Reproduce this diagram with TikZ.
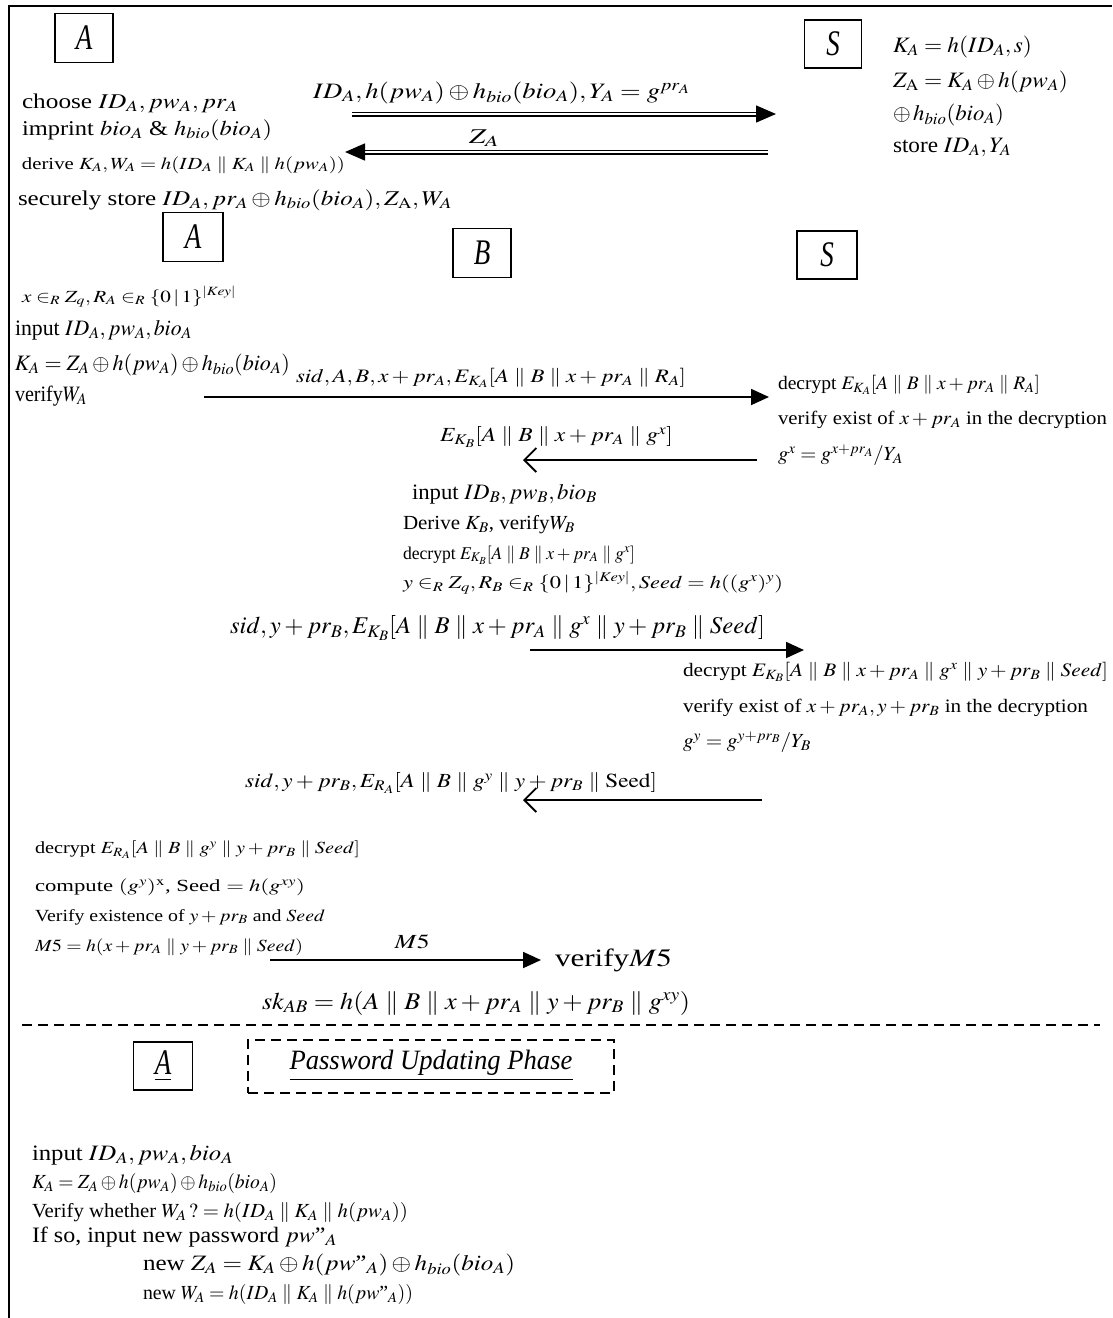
\documentclass[tikz,border=0pt]{standalone}
\usepackage{mathptmx}
\usepackage[no-math]{fontspec}
\setmainfont{Liberation Serif}
\usepackage{graphicx}
\usetikzlibrary{arrows.meta}
\newsavebox\fitbox
\newlength\fitlen
\newcommand\fitw[2]{\sbox\fitbox{#2}\setlength\fitlen{\wd\fitbox}\pgfmathsetmacro\fitfac{#1/\fitlen}\scalebox{\fitfac}[1]{\usebox\fitbox}}
\newcommand\fs[1]{\fontsize{#1}{#1}\selectfont}
\newcommand\pp{\parallel}
\newcommand\pwq{pw\mbox{"}}
\tikzset{
  txt/.style={anchor=west, inner sep=0pt, outer sep=0pt},
  ctxt/.style={inner sep=0pt, outer sep=0pt},
  pbox/.style={draw, line width=1.6pt, minimum width=58pt, minimum height=49pt, inner sep=0pt, font=\fs{36}\itshape},
  arr/.style={line width=1.8pt, -{Triangle[length=18pt,width=16pt]}},
  barb/.style={line width=1.8pt, -{Straight Barb[length=12pt,width=24pt,line width=1.8pt]}},
  dbl/.style={double, double distance=2pt, line width=1.5pt, -{Triangle[length=20pt,width=17pt]}},
}
\begin{document}
\begin{tikzpicture}[x=1pt,y=-1pt]
\useasboundingbox (0,0) rectangle (1112,1318);
% frame
\draw[line width=2.4pt] (9,1318) -- (9,6) -- (1112,6);

% ---------- registration ----------
\node[pbox] (bA1) at (84,38) {\scalebox{0.75}[1]{A}};
\node[pbox, minimum width=57pt, minimum height=48pt] (bS1) at (833,44) {\scalebox{0.75}[1]{S}};

\node[txt,font=\fs{21}] (t1) at (22,103) {\fitw{216}{choose $ID_A, pw_A, pr_A$}};
\node[txt,font=\fs{21}] (t2) at (22,130) {\fitw{250}{imprint $bio_A$ \& $h_{bio}(bio_A)$}};
\node[txt,font=\fs{17}] (t3) at (22,165) {\fitw{323}{derive $K_A, W_A = h(ID_A \pp K_A \pp h(pw_A))$}};
\node[txt,font=\fs{21}] (t4) at (18,200) {\fitw{434}{securely store $ID_A, pr_A \oplus h_{bio}(bio_A), Z_{\mathrm{A}}, W_A$}};

\node[txt,font=\fs{22}] (m1) at (313,93) {\fitw{377}{$ID_A, h(pw_A)\oplus h_{bio}(bio_A), Y_A = g^{pr_A}$}};
\node[ctxt,font=\fs{21}] (m2) at (484,138) {\fitw{30}{$Z_A$}};

\node[txt,font=\fs{22}] (r1) at (893,47) {\fitw{139}{$K_A = h(ID_A, s)$}};
\node[txt,font=\fs{22}] (r2) at (893,82) {\fitw{175}{$Z_{\mathrm{A}} = K_A \oplus h(pw_A)$}};
\node[txt,font=\fs{22}] (r3) at (893,115) {\fitw{111}{$\oplus\, h_{bio}(bio_A)$}};
\node[txt,font=\fs{22}] (r4) at (893,147) {\fitw{118}{store $ID_A, Y_A$}};

\coordinate (a1s) at (352,114); \coordinate (a1e) at (776,114);
\coordinate (a2s) at (768,152); \coordinate (a2e) at (345,152);
\draw[dbl] (a1s) -- (a1e);
\draw[dbl] (a2s) -- (a2e);

% ---------- authentication ----------
\node[pbox, minimum width=60pt] (bA2) at (193,237) {\scalebox{0.75}[1]{A}};
\node[pbox] (bB) at (482,253) {\scalebox{0.75}[1]{B}};
\node[pbox, minimum width=60pt, minimum height=48pt] (bS2) at (827,255) {\scalebox{0.75}[1]{S}};

\node[txt,font=\fs{17}] (l1) at (22,297) {\fitw{214}{$x \in_R Z_q, R_A \in_R \{0\,|\,1\}^{|Key|}$}};
\node[txt,font=\fs{22}] (l2) at (15,330) {\fitw{177}{input $ID_A, pw_A, bio_A$}};
\node[txt,font=\fs{22}] (l3) at (15,365) {\fitw{275}{$K_A = Z_A \oplus h(pw_A) \oplus h_{bio}(bio_A)$}};
\node[txt,font=\fs{22}] (l4) at (15,396) {\fitw{72}{verify$W_A$}};

\node[txt,font=\fs{19}] (m3) at (296,378) {\fitw{390}{$sid, A, B, x+pr_A, E_{K_A}[A \pp B \pp x+pr_A \pp R_A]$}};
\coordinate (a3s) at (204,397); \coordinate (a3e) at (769,397);
\draw[arr] (a3s) -- (a3e);

\node[txt,font=\fs{19}] (s1) at (778,385) {\fitw{262}{decrypt $E_{K_A}[A \pp B \pp x+pr_A \pp R_A]$}};
\node[txt,font=\fs{19}] (s2) at (778,420) {\fitw{329}{verify exist of $x+pr_A$ in the decryption}};
\node[txt,font=\fs{20}] (s3) at (778,455) {\fitw{125}{$g^x = g^{x+pr_A}/Y_A$}};

\node[txt,font=\fs{20}] (m4) at (440,437) {\fitw{233}{$E_{K_B}[A \pp B \pp x+pr_A \pp g^x]$}};
\coordinate (a4s) at (757,460); \coordinate (a4e) at (523,460);
\draw[barb] (a4s) -- (a4e);

\node[txt,font=\fs{22}] (b1) at (412,494) {\fitw{185}{input $ID_B, pw_B, bio_B$}};
\node[txt,font=\fs{20}] (b2) at (403,525) {\fitw{172}{Derive $K_B$, verify$W_B$}};
\node[txt,font=\fs{18}] (b3) at (403,555) {\fitw{232}{decrypt $E_{K_B}[A \pp B \pp x+pr_A \pp g^x]$}};
\node[txt,font=\fs{18}] (b4) at (403,583) {\fitw{380}{$y \in_R Z_q, R_B \in_R \{0\,|\,1\}^{|Key|}, Seed = h((g^x)^y)$}};

\node[txt,font=\fs{24}] (m5) at (230,628) {\fitw{535}{$sid, y+pr_B, E_{K_B}[A \pp B \pp x+pr_A \pp g^x \pp y+pr_B \pp Seed]$}};
\coordinate (a5s) at (530,650); \coordinate (a5e) at (804,650);
\draw[arr] (a5s) -- (a5e);

\node[txt,font=\fs{19}] (s4) at (683,672) {\fitw{425}{decrypt $E_{K_B}[A \pp B \pp x+pr_A \pp g^x \pp y+pr_B \pp Seed]$}};
\node[txt,font=\fs{19}] (s5) at (683,708) {\fitw{405}{verify exist of $x+pr_A, y+pr_B$ in the decryption}};
\node[txt,font=\fs{20}] (s6) at (683,742) {\fitw{128}{$g^y = g^{y+pr_B}/Y_B$}};

\node[txt,font=\fs{20}] (m6) at (245,783) {\fitw{412}{$sid, y+pr_B, E_{R_A}[A \pp B \pp g^y \pp y+pr_B \pp \mathrm{Seed}]$}};
\coordinate (a6s) at (762,800); \coordinate (a6e) at (523,800);
\draw[barb] (a6s) -- (a6e);

\node[txt,font=\fs{17}] (c1) at (35,850) {\fitw{325}{decrypt $E_{R_A}[A \pp B \pp g^y \pp y+pr_B \pp Seed]$}};
\node[txt,font=\fs{17}] (c2) at (35,887) {\fitw{270}{compute $(g^y)^{\mathrm{x}}$, Seed $= h(g^{xy})$}};
\node[txt,font=\fs{17}] (c3) at (35,917) {\fitw{290}{Verify existence of $y+pr_B$ and $Seed$}};
\node[txt,font=\fs{17}] (c4) at (35,947) {\fitw{268}{$M5 = h(x+pr_A \pp y+pr_B \pp Seed)$}};

\node[ctxt,font=\fs{20}] (m7) at (412,942) {\fitw{35}{$M5$}};
\coordinate (a7s) at (270,960); \coordinate (a7e) at (541,960);
\draw[arr] (a7s) -- (a7e);
\node[txt,font=\fs{25}] (v) at (555,960) {\fitw{117}{verify$M5$}};

\node[txt,font=\fs{24}] (sk) at (262,1003) {\fitw{428}{$sk_{AB} = h(A \pp B \pp x+pr_A \pp y+pr_B \pp g^{xy})$}};

% ---------- password update ----------
\coordinate (d1) at (22,1025); \coordinate (d2) at (1100,1025);
\draw[line width=2pt, dash pattern=on 10pt off 6pt] (d1) -- (d2);

\node[pbox, minimum width=59pt, minimum height=48pt] (bA3) at (163,1066) {\scalebox{0.75}[1]{\underline{A}}};
\node[draw, line width=2pt, dash pattern=on 10pt off 6pt, minimum width=366pt, minimum height=53pt, inner sep=0pt, font=\fs{28}\itshape] (pup) at (431,1066) {\fitw{283}{\underline{Password Updating Phase}}};

\node[txt,font=\fs{22}] (q1) at (32,1155) {\fitw{201}{input $ID_A, pw_A, bio_A$}};
\node[txt,font=\fs{20}] (q2) at (32,1183) {\fitw{245}{$K_A = Z_A \oplus h(pw_A) \oplus h_{bio}(bio_A)$}};
\node[txt,font=\fs{20}] (q3) at (32,1212) {\fitw{376}{Verify whether $W_A\,? = h(ID_A \pp K_A \pp h(pw_A))$}};
\node[txt,font=\fs{22}] (q4) at (32,1237) {\fitw{305}{If so, input new password $\pwq_A$}};
\node[txt,font=\fs{22}] (q5) at (143,1265) {\fitw{372}{new $Z_A = K_A \oplus h(\pwq_A) \oplus h_{bio}(bio_A)$}};
\node[txt,font=\fs{20}] (q6) at (143,1294) {\fitw{270}{new $W_A = h(ID_A \pp K_A \pp h(\pwq_A))$}};
\end{tikzpicture}
\end{document}
